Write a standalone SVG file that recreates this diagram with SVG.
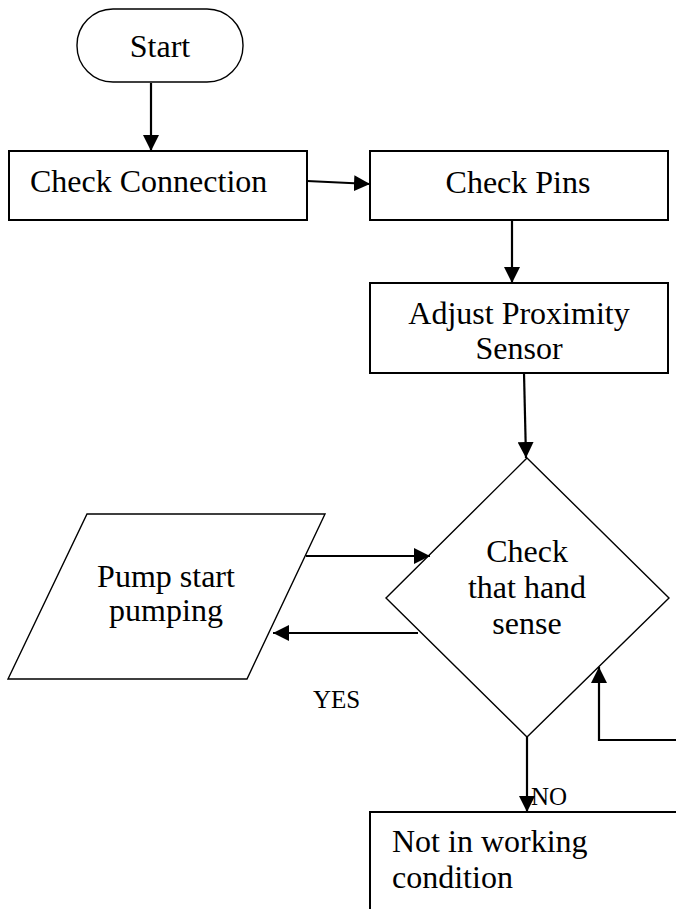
<svg xmlns="http://www.w3.org/2000/svg" width="676" height="909" viewBox="0 0 676 909">
<style>
text{font-family:"Liberation Serif","Times New Roman",serif;font-size:32px;fill:#000}
.lbl{font-size:25px}
.box{fill:#fff;stroke:#000;stroke-width:2}
.thin{fill:#fff;stroke:#000;stroke-width:1.4}
.conn line,.conn polyline{stroke:#000;stroke-width:2.2;fill:none;marker-end:url(#arr)}
</style>
<defs>
<marker id="arr" markerUnits="userSpaceOnUse" markerWidth="17" markerHeight="16" refX="16" refY="8" orient="auto">
<path d="M0,0 L16,8 L0,16 z" fill="#000"/>
</marker>
</defs>
<rect width="676" height="909" fill="#fff"/>
<g id="start">
<rect class="thin" x="77" y="9" width="166" height="73" rx="36" ry="36"/>
<text x="160" y="57" text-anchor="middle">Start</text>
</g>
<g id="check-connection">
<rect class="box" x="9" y="151" width="298" height="69"/>
<text x="30" y="192">Check Connection</text>
</g>
<g id="check-pins">
<rect class="box" x="370" y="151" width="298" height="69"/>
<text x="518" y="193" text-anchor="middle">Check Pins</text>
</g>
<g id="adjust-sensor">
<rect class="box" x="370" y="283" width="298" height="90"/>
<text x="519" y="324" text-anchor="middle">Adjust Proximity</text>
<text x="519" y="359" text-anchor="middle">Sensor</text>
</g>
<g id="check-hand">
<polygon class="thin" points="527,458 669,598 527,737 386,598"/>
<text x="527" y="562" text-anchor="middle">Check</text>
<text x="527" y="598" text-anchor="middle">that hand</text>
<text x="527" y="634" text-anchor="middle">sense</text>
</g>
<g id="pump">
<polygon class="thin" points="87,514 325,514 247,679 8,679"/>
<text x="166" y="587" text-anchor="middle">Pump start</text>
<text x="166" y="621" text-anchor="middle">pumping</text>
</g>
<g id="not-working">
<rect class="box" x="370" y="812" width="330" height="120"/>
<text x="392" y="852">Not in working</text>
<text x="392" y="888">condition</text>
</g>
<g class="conn" id="connectors">
<line x1="151" y1="83" x2="151" y2="151"/>
<line x1="307" y1="181" x2="370" y2="184"/>
<line x1="512" y1="220" x2="512" y2="283"/>
<line x1="524" y1="373" x2="526" y2="458"/>
<line x1="306" y1="556" x2="430" y2="556"/>
<line x1="418" y1="633" x2="273" y2="633"/>
<polyline points="676,740 599,740 599,667"/>
<line x1="527" y1="737" x2="527" y2="812"/>
</g>
<text class="lbl" x="313" y="708">YES</text>
<text class="lbl" x="531" y="805">NO</text>
</svg>
